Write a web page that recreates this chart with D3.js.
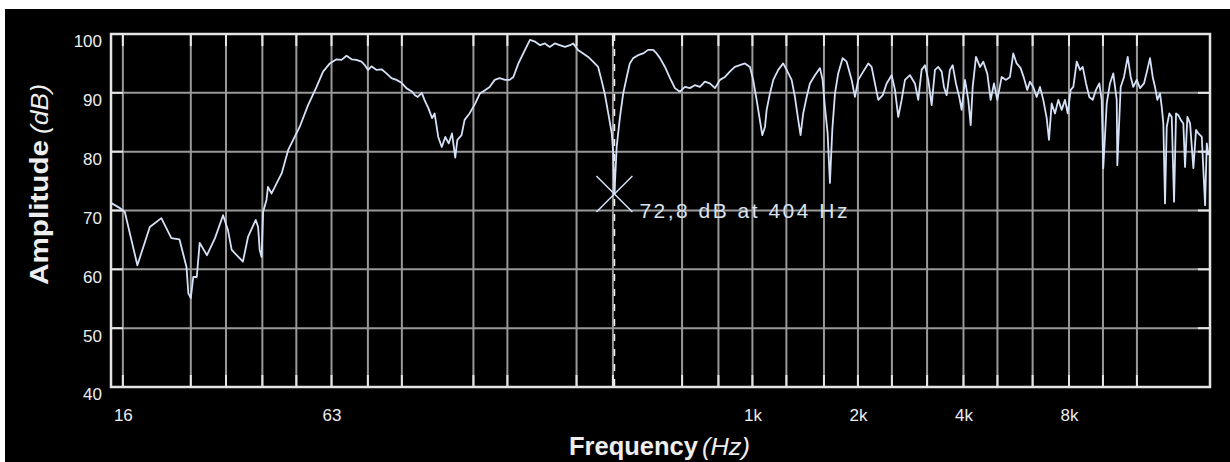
<!DOCTYPE html>
<html>
<head>
<meta charset="utf-8">
<script src="https://cdn.jsdelivr.net/npm/d3@7"></script>
<style>
  html, body { margin: 0; padding: 0; background: #fff; }
  svg { display: block; }
</style>
</head>
<body>
<svg id="chart" width="1230" height="462"></svg>
<script>
// Measured frequency response: frequency (Hz) and amplitude (dB)
const freqHz = [
  14.8, 15.7, 16.2, 17.6, 19.1, 20.6, 22.0, 23.2, 24.3, 24.6,
  25.0, 25.4, 26.0, 26.5, 27.8, 29.3, 30.9, 31.9, 32.7, 35.2,
  36.4, 38.3, 38.9, 39.3, 39.8, 40.2, 41.1, 41.5, 42.5, 45.4,
  47.4, 51.1, 54.0, 57.1, 59.6, 62.3, 65.1, 67.3, 69.5, 71.9,
  74.2, 76.7, 78.4, 80.1, 81.9, 84.7, 87.5, 90.4, 93.4, 96.5,
  99.8, 103, 107, 109, 111, 114, 116, 119, 122, 124,
  127, 130, 133, 136, 139, 142, 144, 148, 151, 156,
  162, 167, 173, 178, 184, 190, 197, 203, 208, 215,
  222, 232, 240, 248, 256, 264, 273, 282, 292, 302,
  308, 318, 329, 340, 351, 363, 371, 379, 388, 397,
  401, 404, 410, 419, 428, 438, 447, 457, 472, 488,
  504, 521, 533, 545, 563, 582, 601, 621, 642, 663,
  685, 708, 732, 756, 782, 808, 835, 862, 891, 921,
  952, 984, 1005, 1028, 1050, 1067, 1086, 1098, 1122, 1147,
  1185, 1224, 1252, 1294, 1322, 1351, 1372, 1396, 1428, 1459,
  1508, 1558, 1586, 1610, 1639, 1664, 1690, 1720, 1757, 1809,
  1857, 1919, 1961, 2004, 2071, 2140, 2188, 2236, 2286, 2353,
  2415, 2496, 2551, 2606, 2665, 2724, 2814, 2908, 2972, 3039,
  3106, 3174, 3246, 3317, 3390, 3467, 3519, 3582, 3660, 3726,
  3807, 3891, 3953, 4040, 4129, 4194, 4250, 4343, 4459, 4556,
  4677, 4783, 4888, 4995, 5142, 5289, 5429, 5548, 5673, 5824,
  5952, 6082, 6191, 6327, 6470, 6612, 6757, 6910, 7015, 7140,
  7298, 7458, 7626, 7793, 7933, 8090, 8231, 8417, 8601, 8755,
  8947, 9142, 9349, 9552, 9763, 9918, 10020, 10250, 10470, 10700,
  10946, 10989, 11235, 11482, 11765, 12000, 12207, 12483, 12757, 13095,
  13382, 13621, 13865, 14077, 14293, 14549, 14711, 14868, 15033, 15203,
  15465, 15710, 15951, 16162, 16409, 16668, 16955, 17147, 17410, 17721,
  18109, 18433, 18715, 19139, 19558, 19775, 19985
];

const amplitudeDb = [
  71.3, 70.4, 69.8, 60.7, 67.2, 68.7, 65.3, 65.1, 60.4, 55.9,
  55.1, 58.7, 58.7, 64.5, 62.4, 65.3, 69.2, 66.7, 63.3, 61.3,
  65.5, 68.4, 67.2, 63.3, 62.1, 69.8, 71.8, 74.0, 72.9, 76.3,
  80.3, 84.2, 87.9, 91.0, 93.6, 95.0, 95.7, 95.6, 96.3, 95.7,
  95.6, 95.3, 94.7, 93.9, 94.5, 93.9, 94.0, 93.3, 92.5, 92.2,
  91.7, 90.8, 90.2, 89.6, 89.3, 90.0, 88.8, 87.4, 85.7, 86.5,
  82.5, 80.8, 82.5, 81.4, 83.1, 79.0, 82.0, 82.8, 85.4, 86.5,
  88.2, 89.9, 90.5, 91.0, 92.2, 92.5, 92.2, 92.2, 92.7, 95.0,
  96.7, 99.0, 98.7, 98.1, 98.4, 97.8, 98.4, 98.1, 97.8, 98.1,
  98.4, 97.3, 96.7, 96.1, 95.3, 94.4, 92.2, 89.9, 86.5, 83.1,
  79.7, 72.8, 80.8, 85.9, 89.9, 92.7, 95.0, 95.9, 96.4, 96.7,
  97.3, 97.3, 96.7, 95.9, 94.4, 92.5, 90.8, 90.2, 91.0, 90.8,
  91.3, 91.0, 91.9, 91.6, 90.8, 92.2, 92.7, 93.6, 94.4, 94.7,
  95.0, 94.4, 92.2, 88.8, 85.4, 82.8, 84.2, 87.1, 89.9, 92.2,
  93.9, 95.0, 93.9, 92.2, 89.3, 85.4, 82.8, 86.5, 89.3, 91.6,
  93.0, 94.2, 92.2, 87.6, 83.1, 74.7, 83.7, 89.9, 93.3, 95.9,
  95.3, 92.2, 89.3, 92.2, 93.6, 95.0, 94.4, 91.6, 88.8, 89.6,
  91.6, 93.0, 90.5, 85.9, 88.8, 92.2, 93.0, 91.6, 88.8, 93.9,
  94.7, 92.2, 87.9, 93.9, 94.4, 93.6, 91.0, 89.6, 93.9, 94.7,
  91.6, 89.3, 87.1, 92.2, 88.8, 84.5, 91.0, 96.1, 94.4, 95.3,
  93.3, 88.8, 91.6, 88.8, 92.7, 92.2, 92.7, 96.7, 95.0, 94.2,
  92.5, 90.5, 91.9, 91.0, 89.3, 91.0, 88.8, 85.7, 82.0, 88.2,
  86.5, 88.8, 87.1, 88.8, 86.5, 90.5, 91.0, 95.3, 93.9, 94.4,
  91.6, 89.3, 88.8, 90.5, 91.6, 88.8, 77.2, 88.2, 91.6, 93.3,
  88.8, 77.7, 91.0, 92.7, 96.1, 92.7, 91.0, 92.2, 90.8, 91.6,
  93.9, 95.9, 92.7, 91.0, 88.8, 89.9, 87.6, 84.8, 71.2, 84.2,
  86.5, 85.9, 71.5, 86.5, 86.2, 85.4, 84.8, 77.4, 85.9, 84.8,
  77.2, 83.7, 83.1, 82.5, 70.9, 81.4, 79.4
];

// Third-octave grid lines drawn on the plot
const gridFreqs = [16, 25, 31.5, 40, 50, 63, 80, 100, 160, 200, 315, 400,
  630, 800, 1000, 1250, 1600, 2000, 2500, 3150, 4000, 5000, 6300, 8000, 10000, 12500];
const freqTicks = [16, 63, 1000, 2000, 4000, 8000];
const freqTickLabels = ["16", "63", "1k", "2k", "4k", "8k"];
const dbTicks = [40, 50, 60, 70, 80, 90, 100];
const dbGrid = [50, 60, 70, 80, 90];

// Cursor readout
const markerFreq = 404;
const markerDb = 72.8;
const markerLabel = "72,8 dB at 404 Hz";

const W = 1230, H = 462;
const plot = { left: 111, right: 1210, top: 34, bottom: 387 };

const svg = d3.select("#chart");

// dark panel
svg.append("rect")
  .attr("x", 5).attr("y", 9)
  .attr("width", W - 5).attr("height", H - 9)
  .attr("fill", "#000");

const x = d3.scaleLog().domain([14.8, 20200]).range([plot.left, plot.right]);
const y = d3.scaleLinear().domain([40, 100]).range([plot.bottom, plot.top]);

const gridColor = "#999999";
const tickColor = "#e6e6e6";
const tickLen = 12;

// vertical grid
const vg = svg.append("g");
vg.selectAll("line.v").data(gridFreqs).join("line")
  .attr("class", "v")
  .attr("x1", d => x(d)).attr("x2", d => x(d))
  .attr("y1", plot.top).attr("y2", plot.bottom)
  .attr("stroke", gridColor).attr("stroke-width", 2);
vg.selectAll("line.vt").data(gridFreqs).join("line")
  .attr("class", "vt")
  .attr("x1", d => x(d)).attr("x2", d => x(d))
  .attr("y1", plot.top).attr("y2", plot.top + tickLen)
  .attr("stroke", tickColor).attr("stroke-width", 2);
vg.selectAll("line.vb").data(gridFreqs).join("line")
  .attr("class", "vb")
  .attr("x1", d => x(d)).attr("x2", d => x(d))
  .attr("y1", plot.bottom - tickLen).attr("y2", plot.bottom)
  .attr("stroke", tickColor).attr("stroke-width", 2);

// horizontal grid
const hg = svg.append("g");
hg.selectAll("line.h").data(dbGrid).join("line")
  .attr("class", "h")
  .attr("x1", plot.left).attr("x2", plot.right)
  .attr("y1", d => y(d)).attr("y2", d => y(d))
  .attr("stroke", gridColor).attr("stroke-width", 2);
hg.selectAll("line.hl").data(dbGrid).join("line")
  .attr("class", "hl")
  .attr("x1", plot.left).attr("x2", plot.left + tickLen)
  .attr("y1", d => y(d)).attr("y2", d => y(d))
  .attr("stroke", tickColor).attr("stroke-width", 2);
hg.selectAll("line.hr").data(dbGrid).join("line")
  .attr("class", "hr")
  .attr("x1", plot.right - tickLen).attr("x2", plot.right)
  .attr("y1", d => y(d)).attr("y2", d => y(d))
  .attr("stroke", tickColor).attr("stroke-width", 2);

// plot frame
svg.append("rect")
  .attr("x", plot.left).attr("y", plot.top)
  .attr("width", plot.right - plot.left).attr("height", plot.bottom - plot.top)
  .attr("fill", "none").attr("stroke", "#e4e4e4").attr("stroke-width", 2.5);

// axis tick labels
const labelFont = "'Liberation Sans', Arial, sans-serif";

const yAxis = svg.append("g")
  .attr("transform", `translate(${plot.left},0)`)
  .call(d3.axisLeft(y).tickValues(dbTicks).tickSize(0).tickPadding(9));
yAxis.select(".domain").remove();
yAxis.selectAll("text")
  .attr("dy", "0.76em")
  .attr("fill", "#ededed")
  .style("font-family", labelFont)
  .style("font-size", "17px");

const xAxis = svg.append("g")
  .attr("transform", `translate(0,${plot.bottom})`)
  .call(d3.axisBottom(x).tickValues(freqTicks).tickSize(0).tickPadding(22)
    .tickFormat((d, i) => freqTickLabels[i]));
xAxis.select(".domain").remove();
xAxis.selectAll("text")
  .attr("fill", "#ededed")
  .style("font-family", labelFont)
  .style("font-size", "17px");

// axis titles (bold name, italic unit)
const titleFill = "#eeeeee";
svg.append("text")
  .attr("transform", "translate(48,285) rotate(-90)")
  .attr("text-anchor", "start")
  .attr("fill", titleFill)
  .attr("font-weight", "bold")
  .style("font-family", labelFont)
  .style("font-size", "26px")
  .attr("textLength", 145)
  .attr("lengthAdjust", "spacingAndGlyphs")
  .text("Amplitude");
svg.append("text")
  .attr("transform", "translate(48,134) rotate(-90)")
  .attr("text-anchor", "start")
  .attr("fill", titleFill)
  .attr("font-style", "italic")
  .style("font-family", labelFont)
  .style("font-size", "24px")
  .attr("textLength", 50)
  .attr("lengthAdjust", "spacingAndGlyphs")
  .text("(dB)");

svg.append("text")
  .attr("x", 569).attr("y", 455)
  .attr("fill", titleFill)
  .attr("font-weight", "bold")
  .style("font-family", labelFont)
  .style("font-size", "26px")
  .attr("textLength", 129)
  .attr("lengthAdjust", "spacingAndGlyphs")
  .text("Frequency");
svg.append("text")
  .attr("x", 702).attr("y", 455)
  .attr("fill", titleFill)
  .attr("font-style", "italic")
  .style("font-family", labelFont)
  .style("font-size", "24px")
  .attr("textLength", 48)
  .attr("lengthAdjust", "spacingAndGlyphs")
  .text("(Hz)");

// cursor line
svg.append("line")
  .attr("x1", x(markerFreq)).attr("x2", x(markerFreq))
  .attr("y1", plot.top).attr("y2", plot.bottom)
  .attr("stroke", "#f2f2f2").attr("stroke-width", 1.6)
  .attr("stroke-dasharray", "7,8");

// response curve
const points = freqHz.map((f, i) => ({ f, db: amplitudeDb[i] }));
const curveColor = "#d4e1f6";
svg.append("path")
  .datum(points)
  .attr("fill", "none")
  .attr("stroke", curveColor)
  .attr("stroke-width", 1.8)
  .attr("stroke-linejoin", "round")
  .attr("d", d3.line().x(d => x(d.f)).y(d => y(d.db)));

// cursor cross and readout
const mx = x(markerFreq), my = y(markerDb), r = 18;
const cross = svg.append("g").attr("stroke", curveColor).attr("stroke-width", 1.5);
cross.append("line").attr("x1", mx - r).attr("y1", my - r).attr("x2", mx + r).attr("y2", my + r);
cross.append("line").attr("x1", mx - r).attr("y1", my + r).attr("x2", mx + r).attr("y2", my - r);

svg.append("text")
  .attr("x", mx + 25).attr("y", my + 24)
  .attr("fill", "#dae2ee")
  .style("font-family", labelFont)
  .style("font-size", "21px")
  .attr("textLength", 208)
  .attr("lengthAdjust", "spacing")
  .text(markerLabel);
</script>
</body>
</html>
